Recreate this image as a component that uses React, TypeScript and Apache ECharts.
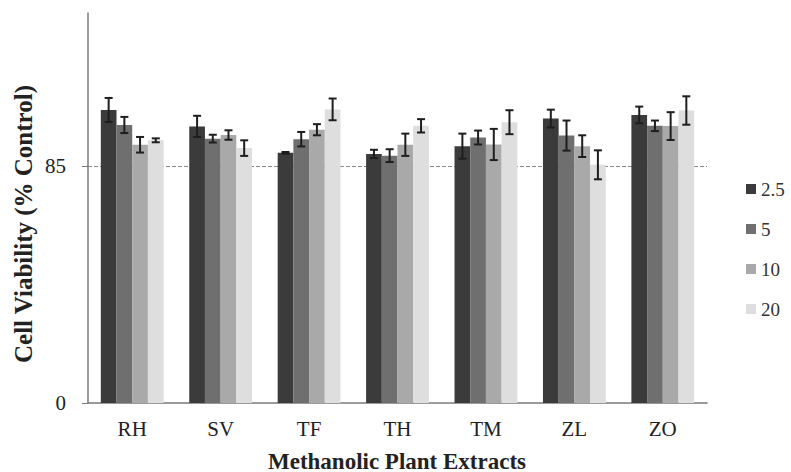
import React, { useEffect, useRef } from "react";
import * as echarts from "echarts";

const categories = ["RH", "SV", "TF", "TH", "TM", "ZL", "ZO"];
const seriesNames = ["2.5", "5", "10", "20"];
const values25 = [105.2, 99.3, 89.8, 89.4, 92.2, 102.1, 103.4];
const values5 = [99.8, 94.9, 94.7, 88.8, 95.3, 96.0, 99.5];
const values10 = [92.7, 96.2, 98.1, 92.7, 92.8, 92.2, 99.4];
const values20 = [94.3, 91.5, 105.4, 99.5, 100.8, 85.5, 105.0];
const errors25 = [4.3, 3.8, 0.3, 1.5, 4.5, 3.2, 3.0];
const errors5 = [2.9, 1.4, 2.6, 2.3, 2.5, 5.4, 1.9];
const errors10 = [2.8, 1.7, 2.0, 4.0, 5.6, 3.9, 5.0];
const errors20 = [0.7, 2.8, 3.9, 2.4, 4.3, 5.2, 5.1];
const yTicks = [0, 85];
const refLine = 85;

const colors = ["#3b3b3b", "#6f6f6f", "#a9a9a9", "#dedede"];
const FONT = '"Liberation Serif", "Times New Roman", serif';
const CAT_GAP = 0.29;

export default function App() {
  const ref = useRef<HTMLDivElement>(null);
  useEffect(() => {
    if (!ref.current) return;
    document.body.style.margin = "0";
    const chart = echarts.init(ref.current, null, { renderer: "svg" });
    const vals = [values25, values5, values10, values20];
    const errs = [errors25, errors5, errors10, errors20];

    const barSeries = seriesNames.map((n, si) => ({
      name: n,
      type: "bar",
      data: vals[si],
      barGap: "0%",
      barCategoryGap: CAT_GAP * 100 + "%",
      itemStyle: { color: colors[si] },
      z: 3,
      ...(si === 0
        ? {
            markLine: {
              silent: true,
              symbol: "none",
              z: 1,
              label: { show: false },
              lineStyle: { color: "#8a8a8a", type: [4, 2], width: 1 },
              data: [{ yAxis: refLine }],
            },
          }
        : {}),
    }));

    const errSeries = seriesNames.map((n, si) => ({
      type: "custom",
      z: 4,
      data: categories.map((c, ci) => [ci, vals[si][ci], errs[si][ci], si]),
      renderItem: (params: any, api: any) => {
        const ci = api.value(0);
        const v = api.value(1);
        const e = api.value(2);
        const idx = api.value(3);
        const band = api.size([1, 0])[0];
        const bw = (band * (1 - CAT_GAP)) / 4;
        const c = api.coord([ci, v]);
        const x = c[0] + (idx - 1.5) * bw;
        const hi = api.coord([ci, v + e])[1];
        const lo = api.coord([ci, v - e])[1];
        const cap = 4;
        const style = { stroke: "#1e1e1e", lineWidth: 2 };
        return {
          type: "group",
          children: [
            { type: "line", shape: { x1: x, y1: hi, x2: x, y2: lo }, style },
            { type: "line", shape: { x1: x - cap, y1: hi, x2: x + cap, y2: hi }, style },
            { type: "line", shape: { x1: x - cap, y1: lo, x2: x + cap, y2: lo }, style },
          ],
        };
      },
    }));

    chart.setOption({
      animation: false,
      backgroundColor: "#ffffff",
      textStyle: { fontFamily: FONT },
      grid: { left: 88, right: 84, top: 13, bottom: 69, outerBoundsMode: "none", containLabel: false },
      legend: {
        data: seriesNames,
        orient: "vertical",
        left: 741,
        top: 174,
        itemWidth: 10,
        itemHeight: 10,
        itemGap: 20,
        itemTextGap: 5,
        icon: "rect",
        textStyle: { fontFamily: FONT, fontSize: 19, color: "#333", lineHeight: 20 },
      },
      graphic: [
        {
          type: "text",
          x: 23,
          y: 224,
          rotation: Math.PI / 2,
          style: {
            text: "Cell Viability (% Control)",
            fontFamily: FONT,
            fontSize: 25,
            fontWeight: "bold",
            fill: "#222",
            align: "center",
            verticalAlign: "middle",
          },
        },
        {
          type: "text",
          x: 397,
          y: 461,
          style: {
            text: "Methanolic Plant Extracts",
            fontFamily: FONT,
            fontSize: 23,
            fontWeight: "bold",
            fill: "#222",
            align: "center",
            verticalAlign: "middle",
          },
        },
      ],
      xAxis: {
        type: "category",
        data: categories,
        axisLine: { lineStyle: { color: "#7a7a7a", width: 1.5 } },
        axisTick: { show: false },
        axisLabel: { fontFamily: FONT, fontSize: 21, color: "#222", margin: 15 },
      },
      yAxis: {
        type: "value",
        min: 0,
        max: 140,
        interval: 85,
        axisLine: { show: true, lineStyle: { color: "#7a7a7a", width: 1.5 } },
        axisTick: { show: true, length: 6, lineStyle: { color: "#7a7a7a" } },
        splitLine: { show: false },
        axisLabel: {
          fontFamily: FONT,
          fontSize: 21,
          color: "#222",
          margin: 22,
          showMaxLabel: false,
          formatter: (v: number) => (yTicks.includes(v) ? String(v) : ""),
        },
      },
      series: [...barSeries, ...errSeries],
    });
    return () => chart.dispose();
  }, []);
  return <div ref={ref} style={{ width: 791, height: 472 }} />;
}
